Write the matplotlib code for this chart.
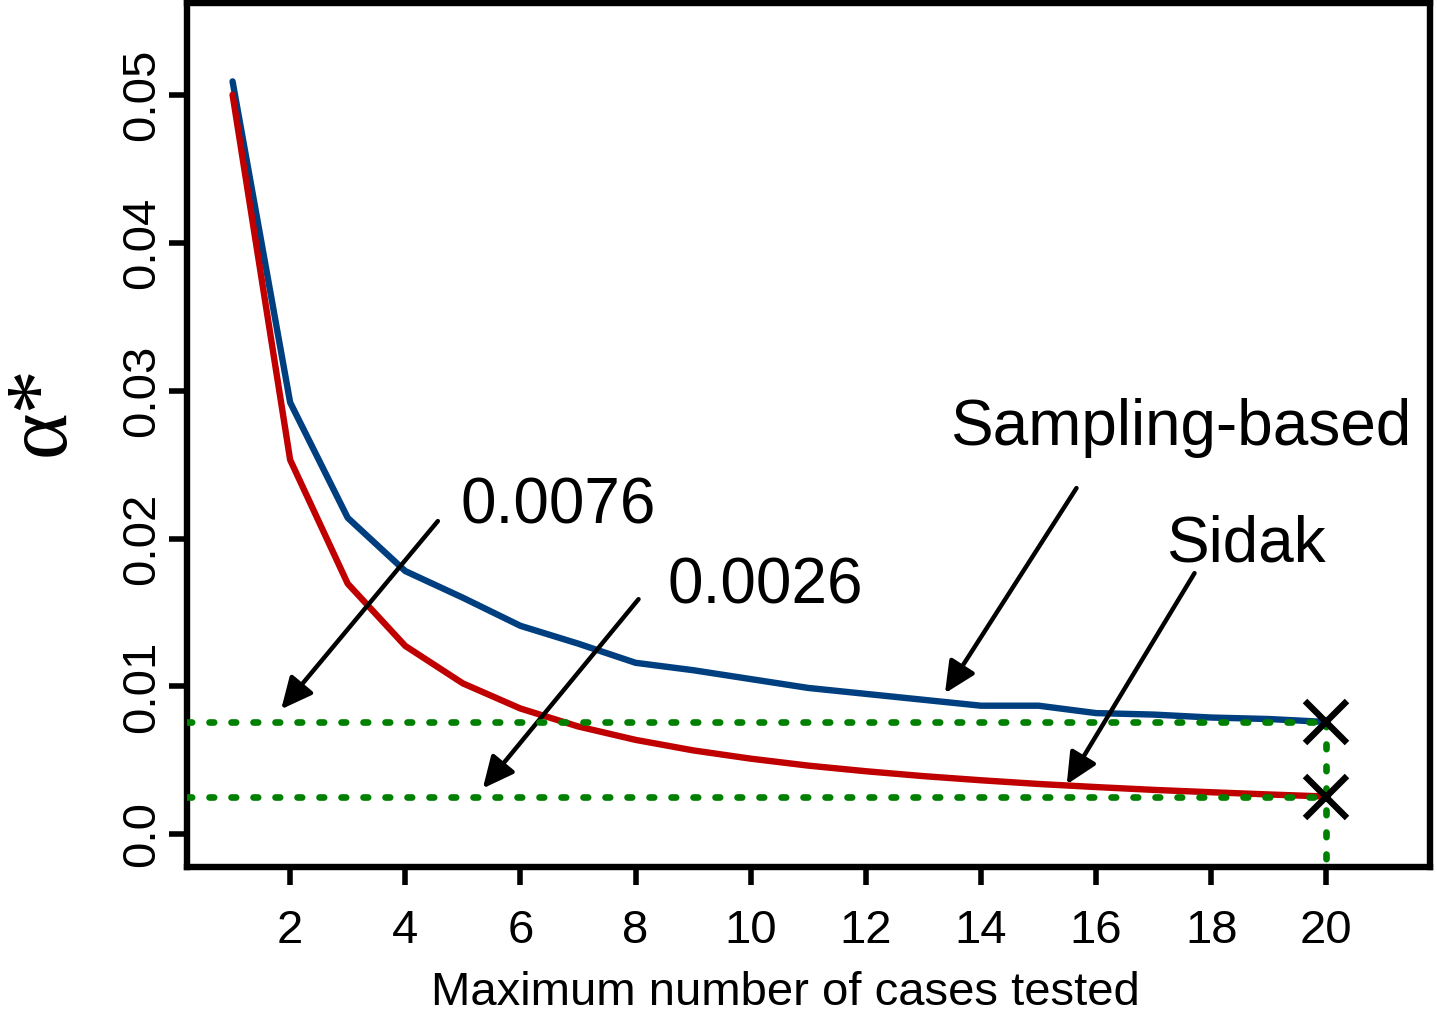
import numpy as np
import matplotlib
matplotlib.use("Agg")
import matplotlib.pyplot as plt

plt.rcParams['font.family'] = ['Liberation Sans', 'DejaVu Sans']

# cases tested
k = list(range(1, 21))

# sampling-based alpha*
sampling = [0.0509, 0.0292, 0.0214, 0.0178, 0.0160, 0.0141, 0.0129, 0.0116, 0.0111, 0.0105,
            0.0099, 0.0095, 0.0091, 0.0087, 0.0087, 0.0082, 0.0081, 0.0079, 0.0078, 0.0076]

# sidak alpha*
sidak = [0.0500, 0.02532, 0.01695, 0.01274, 0.01021, 0.00851, 0.00730, 0.00639, 0.00568, 0.00512,
         0.00465, 0.00427, 0.00394, 0.00366, 0.00341, 0.00320, 0.00301, 0.00285, 0.00270, 0.00256]

xticks = [2, 4, 6, 8, 10, 12, 14, 16, 18, 20]
yticks = [0.0, 0.01, 0.02, 0.03, 0.04, 0.05]
ylabs = ["0.0", "0.01", "0.02", "0.03", "0.04", "0.05"]

blue = "#003f7f"
red = "#c00000"
green = "#008000"

fig = plt.figure(figsize=(14.37, 10.16), dpi=100)
ax = fig.add_axes([0.1298, 0.1467, 0.9951 - 0.1298, 0.99705 - 0.1467])
ax.set_xlim(0.2, 21.8)
ax.set_ylim(-0.0022, 0.0562)

ax.plot(k, sampling, color=blue, lw=4.6, solid_capstyle='round', solid_joinstyle='round', zorder=3)
ax.plot(k, sidak, color=red, lw=4.6, solid_capstyle='round', solid_joinstyle='round', zorder=3)

# dotted guide lines
dots = dict(color=green, lw=4.8, linestyle=(0, (0.7, 2.6)), dash_capstyle='round', zorder=4)
ax.plot([0.2, 20], [sampling[-1], sampling[-1]], **dots)
ax.plot([0.2, 20], [sidak[-1], sidak[-1]], **dots)
ax.plot([20, 20], [sampling[-1], -0.0022], clip_on=False, **dots)

ax.plot([20, 20], [sampling[-1], sidak[-1]], ls='none', marker='x', ms=30, mew=4.6,
        color='black', zorder=5, clip_on=False)

# annotations
arr = dict(arrowstyle='-|>,head_length=0.95,head_width=0.45', mutation_scale=20,
           lw=3.2, color='black', shrinkA=0, shrinkB=0)
ax.annotate("", xy=(1.844, 0.00846), xytext=(4.566, 0.02118), arrowprops=arr)
ax.annotate("", xy=(5.347, 0.00311), xytext=(8.052, 0.0159), arrowprops=arr)
ax.annotate("", xy=(13.375, 0.00954), xytext=(15.66, 0.02341), arrowprops=arr)
ax.annotate("", xy=(15.49, 0.00338), xytext=(17.71, 0.01766), arrowprops=arr)

tfs = 46
ax.text(4.96, 0.0210, "0.0076", fontsize=tfs, ha='left', va='baseline')
ax.text(8.555, 0.01563, "0.0026", fontsize=tfs, ha='left', va='baseline')
ax.text(13.46, 0.02632, "Sampling-based", fontsize=tfs, ha='left', va='baseline')
ax.text(17.22, 0.01847, "Sidak", fontsize=tfs, ha='left', va='baseline')

ax.set_xticks(xticks)
ax.set_xticklabels([str(v) for v in xticks], fontsize=34)
ax.set_yticks(yticks)
ax.set_yticklabels(ylabs, fontsize=34, rotation=90, va='center')
ax.tick_params(axis='x', length=13, width=4.0, pad=17)
ax.tick_params(axis='y', length=13, width=4.0, pad=3)
for s in ax.spines.values():
    s.set_linewidth(4.6)

fig.text(785 / 1437, 1 - 1005 / 1016, "Maximum number of cases tested", fontsize=34,
         ha='center', va='baseline')
fig.text(42 / 1437, 1 - 410 / 1016, "α*", fontsize=64, rotation=90, ha='center', va='center',
         family=['Liberation Serif', 'DejaVu Serif'])

fig.savefig("out.png", dpi=100)
